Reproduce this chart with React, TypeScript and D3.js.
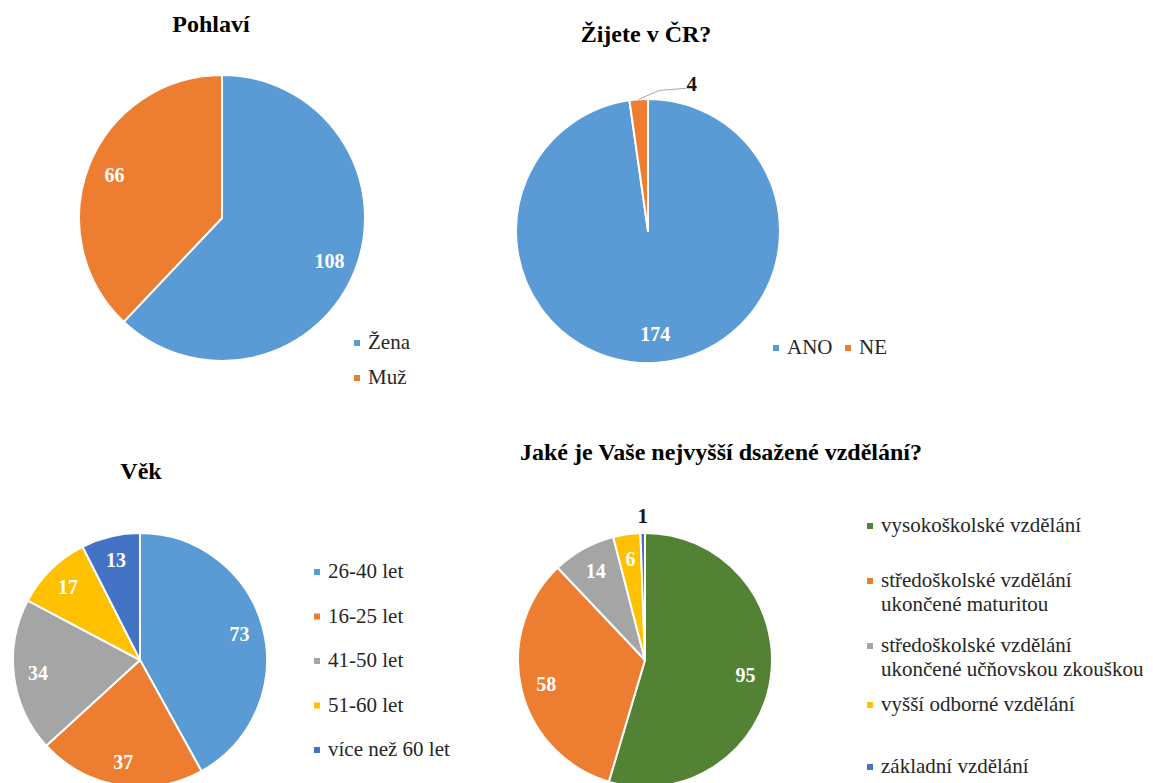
import React, { useEffect, useRef } from 'react';
import * as d3 from 'd3';

// ---- data ----
const genderCategories = ['Žena', 'Muž'];
const genderValues = [108, 66];

const residenceCategories = ['ANO', 'NE'];
const residenceValues = [174, 4];

const ageCategories = ['26-40 let', '16-25 let', '41-50 let', '51-60 let', 'více než 60 let'];
const ageValues = [73, 37, 34, 17, 13];

const eduCategories = [
  ['vysokoškolské vzdělání'],
  ['středoškolské vzdělání', 'ukončené maturitou'],
  ['středoškolské vzdělání', 'ukončené učňovskou zkouškou'],
  ['vyšší odborné vzdělání'],
  ['základní vzdělání'],
];
const eduValues = [95, 58, 14, 6, 1];

const chartTitles = ['Pohlaví', 'Žijete v ČR?', 'Věk', 'Jaké je Vaše nejvyšší dsažené vzdělání?'];

// ---- colours ----
const twoColors = ['#5B9BD5', '#ED7D31'];
const ageColors = ['#5B9BD5', '#ED7D31', '#A5A5A5', '#FFC000', '#4472C4'];
const eduColors = ['#548235', '#ED7D31', '#A5A5A5', '#FFC000', '#4472C4'];

const SERIF = '"Times New Roman", "Nimbus Roman", "FreeSerif", "Tinos", "Liberation Serif"';

type Sel = d3.Selection<SVGSVGElement, unknown, null, undefined>;

function drawPie(svg: Sel, cx: number, cy: number, r: number, values: number[], colors: string[],
  labelK: number, outside: { dx: number; dy: number; leader?: [number, number][] }) {
  const total = d3.sum(values);
  const arcs = d3.pie<number>().sort(null).value((d) => d)(values);
  const arcGen = d3.arc<d3.PieArcDatum<number>>().innerRadius(0).outerRadius(r);
  const labelArc = d3.arc<d3.PieArcDatum<number>>().innerRadius(r * labelK).outerRadius(r * labelK);
  const g = svg.append('g').attr('transform', `translate(${cx},${cy})`);
  g.selectAll('path.slice').data(arcs).enter().append('path')
    .attr('d', (d) => arcGen(d) || '')
    .attr('fill', (_d, i) => colors[i])
    .attr('stroke', '#fff').attr('stroke-width', 2).attr('stroke-linejoin', 'round');
  arcs.forEach((a) => {
    if (a.value / total < 0.03) {
      const mid = (a.startAngle + a.endAngle) / 2;
      const ax = r * Math.sin(mid);
      const ay = -r * Math.cos(mid);
      if (outside.leader) {
        const pts: [number, number][] = [[ax, ay], ...outside.leader.map(([px, py]) => [ax + px, ay + py] as [number, number])];
        g.append('path').attr('d', d3.line()(pts) || '').attr('fill', 'none')
          .attr('stroke', '#A6A6A6').attr('stroke-width', 1);
      }
      g.append('text').attr('x', ax + outside.dx).attr('y', ay + outside.dy + 7)
        .attr('text-anchor', 'middle').style('font-family', SERIF).attr('font-weight', 'bold')
        .attr('font-size', 21).attr('fill', '#1a1a1a').text(String(a.value));
    } else {
      const [x, y] = labelArc.centroid(a);
      g.append('text').attr('x', x).attr('y', y + 7)
        .attr('text-anchor', 'middle').style('font-family', SERIF).attr('font-weight', 'bold')
        .attr('font-size', 20).attr('fill', '#fff').text(String(a.value));
    }
  });
}

function drawLegend(svg: Sel, items: { x: number; y: number; color: string; lines: string[] }[], lineGap: number) {
  items.forEach((it) => {
    svg.append('rect').attr('x', it.x).attr('y', it.y - 9).attr('width', 6).attr('height', 6).attr('fill', it.color);
    it.lines.forEach((l, i) => {
      svg.append('text').attr('x', it.x + 14).attr('y', it.y + i * lineGap)
        .style('font-family', SERIF).attr('font-size', 21).attr('fill', '#262626').text(l);
    });
  });
}

function drawTitle(svg: Sel, x: number, y: number, t: string) {
  svg.append('text').attr('x', x).attr('y', y).attr('text-anchor', 'middle')
    .style('font-family', SERIF).attr('font-weight', 'bold').attr('font-size', 24).attr('fill', '#000').text(t);
}

export default function App() {
  const ref = useRef<SVGSVGElement>(null);
  useEffect(() => {
    if (!ref.current) return;
    const svg = d3.select(ref.current) as Sel;
    svg.selectAll('*').remove();
    svg.append('rect').attr('width', 1153).attr('height', 783).attr('fill', '#fff');

    const genderLegendY = [349, 384];
    const residenceLegendX = [773, 845];
    const ageLegendY = [578, 622.5, 667, 711.5, 756];
    const eduLegendY = [532, 587, 652, 711, 773];

    drawTitle(svg, 211, 32, chartTitles[0]);
    drawPie(svg, 222, 218, 143, genderValues, twoColors, 0.81, { dx: 0, dy: -18 });
    drawLegend(svg, genderCategories.map((c, i) => ({ x: 354, y: genderLegendY[i], color: twoColors[i], lines: [c] })), 25);

    drawTitle(svg, 646, 42, chartTitles[1]);
    drawPie(svg, 648, 231, 132, residenceValues, twoColors, 0.78, { dx: 53, dy: -15, leader: [[21, -9], [47, -11]] });
    drawLegend(svg, residenceCategories.map((c, i) => ({ x: residenceLegendX[i], y: 354, color: twoColors[i], lines: [c] })), 25);

    drawTitle(svg, 141, 479, chartTitles[2]);
    drawPie(svg, 140, 660, 127, ageValues, ageColors, 0.81, { dx: 0, dy: -18 });
    drawLegend(svg, ageCategories.map((c, i) => ({ x: 314, y: ageLegendY[i], color: ageColors[i], lines: [c] })), 25);

    drawTitle(svg, 721, 460, chartTitles[3]);
    drawPie(svg, 645, 660, 127, eduValues, eduColors, 0.8, { dx: 0, dy: -17 });
    drawLegend(svg, eduCategories.map((c, i) => ({ x: 867, y: eduLegendY[i], color: eduColors[i], lines: c })), 24);
  }, []);
  return <svg ref={ref} width={1153} height={783} style={{ position: 'absolute', left: 0, top: 0 }} />;
}
